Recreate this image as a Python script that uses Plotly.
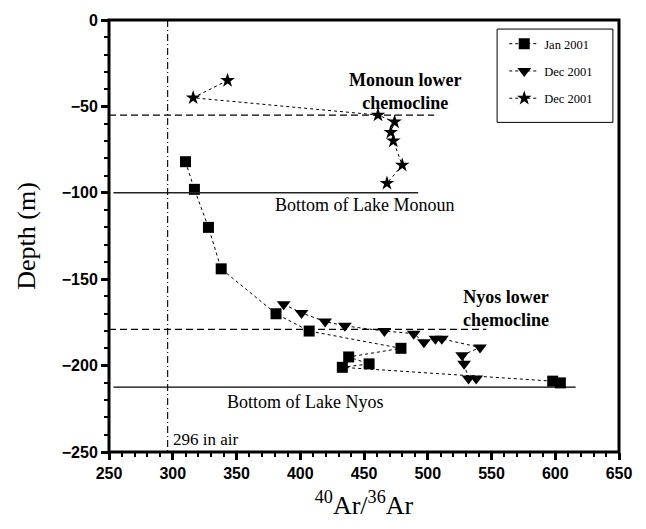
import plotly.graph_objects as go

# Lake Nyos, January 2001 (squares)
jan_ratio = [310, 317, 328, 338, 381, 407, 479, 438, 454, 433, 598, 604]
jan_depth = [-82, -98, -120, -144, -170, -180, -190, -195, -199, -201, -209, -210]

# Lake Nyos, December 2001 (down triangles)
dec_nyos_ratio = [387, 401, 419.5, 435, 466, 489, 497, 506, 511, 541, 527, 528.5, 532, 538]
dec_nyos_depth = [-164.5, -169.5, -174.5, -177, -180, -181.5, -186.5, -184.5, -184.5,
                  -189.5, -194, -199, -207.5, -207.5]

# Lake Monoun, December 2001 (stars)
dec_monoun_ratio = [343, 316, 461, 474, 471, 473, 480, 468]
dec_monoun_depth = [-35, -45, -55, -59, -65, -70, -84, -94.5]

# Reference levels
air_ratio = 296
monoun_chemocline = -55
monoun_bottom = -100
nyos_chemocline = -179
nyos_bottom = -212.5

x_ticks = [250, 300, 350, 400, 450, 500, 550, 600, 650]
y_ticks = [0, -50, -100, -150, -200, -250]

SERIF = "Liberation Serif"
SANS = "Liberation Sans"


def bold_labels(values):
    return ["<b>" + str(v).replace("-", "\u2212") + "</b>" for v in values]


fig = go.Figure()

line_style = dict(color="black", width=1, dash="3px,3px")
fig.add_trace(go.Scatter(
    x=jan_ratio, y=jan_depth, mode="lines+markers", name="Jan 2001",
    legendgroup="a", line=line_style,
    marker=dict(symbol="square", size=11, color="black")))
fig.add_trace(go.Scatter(
    x=dec_nyos_ratio, y=dec_nyos_depth, mode="lines+markers", name="Dec 2001",
    legendgroup="b", line=line_style,
    marker=dict(symbol="triangle-down", size=12, color="black")))
fig.add_trace(go.Scatter(
    x=dec_monoun_ratio, y=dec_monoun_depth, mode="lines+markers", name="Dec 2001",
    legendgroup="c", line=line_style,
    marker=dict(symbol="star", size=11, color="black")))

# Horizontal chemocline / lake-bottom lines
fig.add_shape(type="line", x0=250, x1=505, y0=monoun_chemocline, y1=monoun_chemocline,
              line=dict(color="black", width=1.3, dash="7px,4px"))
fig.add_shape(type="line", x0=253.5, x1=492.5, y0=monoun_bottom, y1=monoun_bottom,
              line=dict(color="#222", width=1.6))
fig.add_shape(type="line", x0=250, x1=546, y0=nyos_chemocline, y1=nyos_chemocline,
              line=dict(color="black", width=1.3, dash="7px,4px"))
fig.add_shape(type="line", x0=253.5, x1=616, y0=nyos_bottom, y1=nyos_bottom,
              line=dict(color="black", width=1.3))
# Atmospheric argon ratio
fig.add_shape(type="line", x0=air_ratio, x1=air_ratio, y0=0, y1=-250,
              line=dict(color="black", width=1.1, dash="7px,3px,1px,3px"))

# Plot frame
fig.add_shape(type="rect", xref="paper", yref="paper", x0=0, x1=1, y0=0, y1=1,
              line=dict(color="black", width=3), layer="above")

# Legend frame
fig.add_shape(type="rect", xref="paper", yref="paper",
              x0=0.761, x1=0.988, y0=0.763, y1=0.979,
              line=dict(color="black", width=1), fillcolor="white", layer="above")

fig.add_annotation(x=482.6, y=-41.5, text="<b>Monoun lower<br>chemocline</b>",
                   showarrow=False, font=dict(family=SERIF, size=18, color="black"),
                   yanchor="middle")
fig.add_annotation(x=561, y=-166.8, text="<b>Nyos lower<br>chemocline</b>",
                   showarrow=False, font=dict(family=SERIF, size=18, color="black"),
                   yanchor="middle")
fig.add_annotation(x=450, y=-107, text="Bottom of Lake Monoun", showarrow=False,
                   font=dict(family=SERIF, size=18, color="black"))
fig.add_annotation(x=403.6, y=-221, text="Bottom of Lake Nyos", showarrow=False,
                   font=dict(family=SERIF, size=18, color="black"))
fig.add_annotation(x=299, y=-242.5, text="296 in air", showarrow=False, xanchor="left",
                   font=dict(family=SERIF, size=17, color="black"))

axis_common = dict(
    showgrid=False, zeroline=False, showline=False,
    ticks="outside", ticklen=7, tickwidth=2.5, tickcolor="black",
    tickfont=dict(family=SANS, size=16, color="black", weight=700),
    minor=dict(dtick=10, ticks="outside", ticklen=4, tickwidth=1.5, tickcolor="black"),
)

fig.update_xaxes(
    range=[250, 650], tickvals=x_ticks, ticktext=bold_labels(x_ticks),
    title=dict(text="<sup>40</sup>Ar/<sup>36</sup>Ar",
               font=dict(family=SERIF, size=26, color="black"), standoff=14),
    **axis_common)
fig.update_yaxes(
    range=[-250, 0], tickvals=y_ticks, ticktext=bold_labels(y_ticks),
    title=dict(text="Depth (m)", font=dict(family=SERIF, size=26, color="black"),
               standoff=18),
    **axis_common)

fig.update_layout(
    width=646, height=529,
    margin=dict(l=109, r=27, t=17, b=77),
    paper_bgcolor="white", plot_bgcolor="white",
    showlegend=True,
    legend=dict(x=0.775, y=0.979, xanchor="left", yanchor="top",
                bgcolor="rgba(0,0,0,0)", borderwidth=0,
                font=dict(family=SERIF, size=12.5, color="black"),
                tracegroupgap=8, itemwidth=30),
)

fig.write_html("out.html")
